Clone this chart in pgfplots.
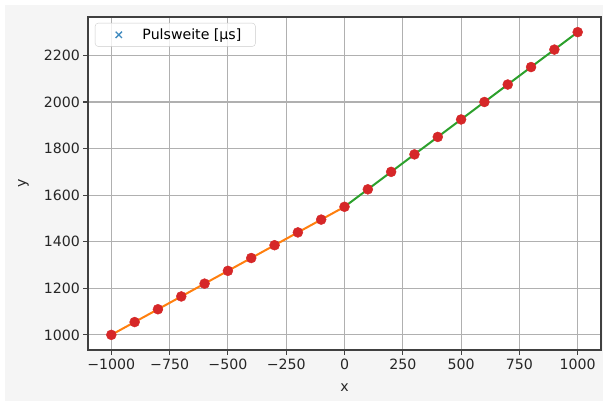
\documentclass[border=0pt]{standalone}
\usepackage{fontspec}
\setmainfont{DejaVu Sans}
\usepackage{pgfplots}
\pgfplotsset{compat=1.18}
\definecolor{mplblue}{HTML}{1F77B4}
\definecolor{mplorange}{HTML}{FF7F0E}
\definecolor{mplgreen}{HTML}{2CA02C}
\definecolor{mplred}{HTML}{D62728}
\definecolor{figbg}{HTML}{F5F5F5}
\definecolor{gridc}{HTML}{B0B0B0}
\begin{document}
\begin{tikzpicture}[x=1bp,y=1bp]
\path[use as bounding box] (0,0) rectangle (603,401);
\fill[white] (0,0) rectangle (603,401);
\fill[figbg] (5,0) rectangle (603,396);
\begin{axis}[
  at={(88bp,51bp)}, anchor=south west,
  scale only axis, width=513bp, height=333bp,
  xmin=-1100, xmax=1100, ymin=935, ymax=2365,
  axis background/.style={fill=white},
  axis line style={draw=black!75, line width=1.1bp},
  grid=major, major grid style={draw=gridc, line width=1.1bp},
  xtick={-1000,-750,-500,-250,0,250,500,750,1000},
  xticklabels={−1000,−750,−500,−250,0,250,500,750,1000},
  ytick={1000,1200,1400,1600,1800,2000,2200},
  yticklabels={1000,1200,1400,1600,1800,2000,2200},
  tick align=outside, tick pos=left,
  major tick length=4.7bp,
  tick style={draw=black!75, line width=1.1bp},
  ticklabel style={font=\fontsize{14.2}{17}\selectfont, text=black!85},
  xticklabel style={yshift=-1bp},
  xlabel={x}, ylabel={y},
  label style={font=\fontsize{14.2}{17}\selectfont, text=black!85},
  xlabel style={yshift=-7bp},
  ylabel style={yshift=8bp},
  legend style={at={(0.0136,0.982)}, anchor=north west,
    draw=black!20, rounded corners=3bp, fill=white, fill opacity=0.8, text opacity=1,
    font=\fontsize{14.2}{17}\selectfont, inner xsep=4bp, inner ysep=3.5bp},
  legend image code/.code={\path (0bp,0bp) (40bp,0bp); \draw[#1] plot coordinates {(19bp,0bp)};},
  legend cell align=left,
]
\addplot[only marks, mark=x, mark size=4.5bp, color=mplblue!85, line width=1.3bp] coordinates {
(-1000,1000) (-900,1055) (-800,1110) (-700,1165) (-600,1220) (-500,1275) (-400,1330)
(-300,1385) (-200,1440) (-100,1495) (0,1550) (100,1625) (200,1700) (300,1775)
(400,1850) (500,1925) (600,2000) (700,2075) (800,2150) (900,2225) (1000,2300)};
\addlegendentry{Pulsweite [µs]\rule{8bp}{0pt}}
\addplot[forget plot, no marks, color=mplorange, line width=2bp] coordinates {
(-1000,1000) (-900,1055) (-800,1110) (-700,1165) (-600,1220) (-500,1275) (-400,1330)
(-300,1385) (-200,1440) (-100,1495) (0,1550)};
\addplot[forget plot, no marks, color=mplgreen, line width=2bp] coordinates {
(0,1550) (100,1625) (200,1700) (300,1775)
(400,1850) (500,1925) (600,2000) (700,2075) (800,2150) (900,2225) (1000,2300)};
\addplot[forget plot, only marks, mark=*, mark size=5bp, color=mplred] coordinates {
(-1000,1000) (-900,1055) (-800,1110) (-700,1165) (-600,1220) (-500,1275) (-400,1330)
(-300,1385) (-200,1440) (-100,1495) (0,1550) (100,1625) (200,1700) (300,1775)
(400,1850) (500,1925) (600,2000) (700,2075) (800,2150) (900,2225) (1000,2300)};
\end{axis}
\end{tikzpicture}
\end{document}
